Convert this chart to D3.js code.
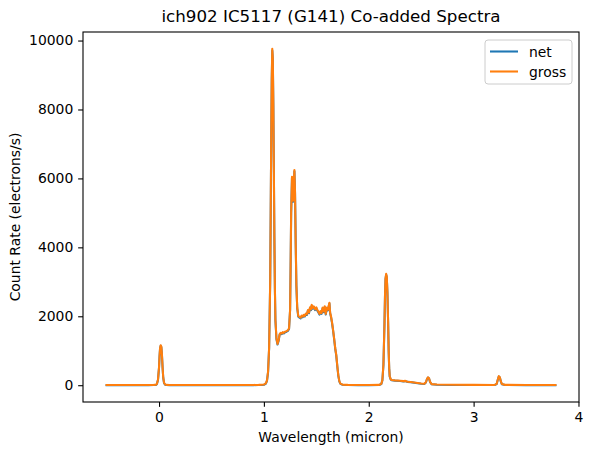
<!DOCTYPE html>
<html>
<head>
<meta charset="utf-8">
<script src="https://cdn.jsdelivr.net/npm/d3@7"></script>
<style>
  body { margin: 0; background: #fff; }
  text { font-family: "DejaVu Sans", sans-serif; }
</style>
</head>
<body>
<div id="chart"></div>
<script>
// Wavelength grid (micron)
const wavelength = [
  -0.51, -0.40, -0.30, -0.20, -0.10, -0.05, -0.03, -0.02, -0.01, 0.000,
  0.005, 0.010, 0.016, 0.022, 0.028, 0.034, 0.040, 0.048, 0.058, 0.070,
  0.100, 0.200, 0.300, 0.400, 0.500, 0.600, 0.700, 0.800, 0.900, 0.950,
  0.980, 1.000, 1.020, 1.030, 1.040, 1.050, 1.060, 1.065, 1.070, 1.075,
  1.080, 1.085, 1.090, 1.095, 1.100, 1.105, 1.110, 1.120, 1.130, 1.140,
  1.150, 1.160, 1.170, 1.180, 1.190, 1.200, 1.210, 1.220, 1.230, 1.240,
  1.250, 1.255, 1.260, 1.268, 1.274, 1.279, 1.285, 1.291, 1.297, 1.303,
  1.310, 1.318, 1.328, 1.340, 1.350, 1.360, 1.370, 1.380, 1.390, 1.400,
  1.410, 1.420, 1.430, 1.440, 1.450, 1.456, 1.465, 1.475, 1.488, 1.500,
  1.510, 1.520, 1.530, 1.540, 1.550, 1.560, 1.570, 1.580, 1.590, 1.600,
  1.610, 1.620, 1.625, 1.632, 1.640, 1.650, 1.660, 1.670, 1.680, 1.690,
  1.700, 1.710, 1.720, 1.730, 1.750, 1.800, 1.900, 2.000, 2.100, 2.120,
  2.130, 2.140, 2.150, 2.155, 2.160, 2.166, 2.172, 2.178, 2.185, 2.190,
  2.195, 2.200, 2.210, 2.220, 2.250, 2.300, 2.330, 2.350, 2.370, 2.400,
  2.450, 2.500, 2.530, 2.545, 2.555, 2.565, 2.575, 2.585, 2.600, 2.650,
  2.800, 3.000, 3.200, 3.220, 3.230, 3.240, 3.250, 3.260, 3.270, 3.300,
  3.500, 3.790
];

// Gross count rate (electrons/s)
const gross = [
  4, 5, 4, 6, 7, 9, 14, 40, 160, 520,
  850, 1080, 1160, 1120, 880, 520, 230, 70, 22, 10,
  7, 6, 5, 6, 5, 6, 5, 6, 8, 10,
  14, 20, 60, 150, 400, 1100, 3000, 5000, 7200, 8900,
  9760, 9500, 8200, 6300, 4300, 2800, 1900, 1350, 1200, 1300,
  1480, 1520, 1500, 1540, 1520, 1550, 1560, 1580, 1600, 1650,
  2200, 3500, 5000, 6050, 5800, 5350, 5900, 6240, 5600, 4200,
  2900, 2250, 2010, 1980, 1960, 2020, 1990, 2040, 2010, 2080,
  2060, 2180, 2110, 2260, 2200, 2330, 2240, 2290, 2200, 2260,
  2180, 2130, 2070, 2150, 2090, 2250, 2140, 2290, 2070, 2250,
  2190, 2330, 2390, 2100, 2000, 1820, 1600, 1350, 1080, 880,
  560, 280, 110, 45, 16, 9, 7, 7, 10, 40,
  150, 600, 1800, 2600, 3100, 3230, 3150, 2700, 1800, 1000,
  500, 260, 170, 150, 140, 130, 118, 125, 102, 95,
  72, 48, 40, 85, 180, 230, 200, 95, 32, 20,
  12, 9, 8, 40, 160, 262, 230, 110, 32, 10,
  6, 4
];

// Net count rate (background subtracted)
const net = [
  1, 2, 1, 2, 3, 4, 8, 33, 150, 505,
  832, 1062, 1142, 1102, 864, 506, 218, 61, 15, 5,
  3, 2, 1, 2, 1, 2, 1, 2, 3, 5,
  8, 13, 50, 135, 380, 1075, 2970, 4965, 7160, 8855,
  9712, 9455, 8160, 6265, 4270, 2775, 1878, 1330, 1182, 1283,
  1462, 1502, 1482, 1522, 1502, 1530, 1540, 1560, 1580, 1630,
  2178, 3475, 4972, 6018, 5770, 5322, 5870, 6205, 5570, 4175,
  2878, 2230, 1990, 1960, 1940, 2000, 1970, 2020, 1990, 2060,
  2040, 2160, 2090, 2240, 2180, 2310, 2220, 2270, 2180, 2240,
  2160, 2110, 2050, 2130, 2070, 2230, 2120, 2270, 2050, 2230,
  2170, 2310, 2368, 2080, 1982, 1802, 1584, 1335, 1066, 868,
  550, 272, 104, 40, 12, 5, 3, 3, 6, 34,
  140, 585, 1780, 2578, 3075, 3205, 3125, 2678, 1782, 985,
  488, 250, 162, 143, 133, 123, 112, 119, 96, 89,
  67, 43, 35, 79, 172, 222, 193, 89, 27, 15,
  8, 5, 4, 35, 152, 253, 222, 104, 27, 6,
  3, 1
];

const xTicks = [0, 1, 2, 3, 4];
const yTicks = [0, 2000, 4000, 6000, 8000, 10000];

const W = 592, H = 455;
const margin = { top: 32, right: 13, bottom: 53, left: 83 };
const width = W - margin.left - margin.right;
const height = H - margin.top - margin.bottom;

const svg = d3.select("#chart")
  .append("svg")
  .attr("width", W)
  .attr("height", H);

const g = svg.append("g")
  .attr("transform", `translate(${margin.left},${margin.top})`);

// matplotlib-style 5% auto margins
const xExt = d3.extent(wavelength);
const yExt = d3.extent(gross.concat(net));
const xPad = (xExt[1] - xExt[0]) * 0.05;
const yPad = (yExt[1] - yExt[0]) * 0.05;

const x = d3.scaleLinear()
  .domain([xExt[0] - xPad, xExt[1] + xPad])
  .range([0, width]);
const y = d3.scaleLinear()
  .domain([yExt[0] - yPad, yExt[1] + yPad])
  .range([height, 0]);

const tickLen = 4.86;
const fontPx = 13.9;

// Axes
const xAxis = g.append("g")
  .attr("transform", `translate(0,${height})`)
  .call(d3.axisBottom(x).tickValues(xTicks).tickFormat(d3.format("d"))
    .tickSize(tickLen).tickPadding(4.86).tickSizeOuter(0));
const yAxis = g.append("g")
  .call(d3.axisLeft(y).tickValues(yTicks).tickFormat(d3.format("d"))
    .tickSize(tickLen).tickPadding(4.86).tickSizeOuter(0));

[xAxis, yAxis].forEach((ax) => {
  ax.select(".domain").remove();
  ax.selectAll(".tick line").attr("stroke", "#000").attr("stroke-width", 1.1);
  ax.selectAll(".tick text")
    .attr("fill", "#000")
    .style("font-size", fontPx + "px")
    .style("font-family", "DejaVu Sans, sans-serif");
});

// Lines: net first, gross drawn on top
const pts = (vals) => wavelength.map((w, i) => [w, vals[i]]);
const line = d3.line().x((d) => x(d[0])).y((d) => y(d[1]));

g.append("path")
  .datum(pts(net))
  .attr("fill", "none")
  .attr("stroke", "#1f77b4")
  .attr("stroke-width", 2.08)
  .attr("stroke-linejoin", "round")
  .attr("d", line);

g.append("path")
  .datum(pts(gross))
  .attr("fill", "none")
  .attr("stroke", "#ff7f0e")
  .attr("stroke-width", 2.08)
  .attr("stroke-linejoin", "round")
  .attr("d", line);

// Frame
g.append("rect")
  .attr("width", width)
  .attr("height", height)
  .attr("fill", "none")
  .attr("stroke", "#000")
  .attr("stroke-width", 1.1);

// Title and axis labels
svg.append("text")
  .attr("x", margin.left + width / 2)
  .attr("y", 22)
  .attr("text-anchor", "middle")
  .style("font-size", "16.7px")
  .text("ich902 IC5117 (G141) Co-added Spectra");

svg.append("text")
  .attr("x", margin.left + width / 2)
  .attr("y", 442)
  .attr("text-anchor", "middle")
  .style("font-size", fontPx + "px")
  .text("Wavelength (micron)");

svg.append("text")
  .attr("transform", `translate(20,${margin.top + height / 2}) rotate(-90)`)
  .attr("text-anchor", "middle")
  .style("font-size", fontPx + "px")
  .text("Count Rate (electrons/s)");

// Legend
const series = [
  { name: "net", color: "#1f77b4" },
  { name: "gross", color: "#ff7f0e" }
];
const legend = svg.append("g")
  .attr("transform", `translate(${485},${40})`);
legend.append("rect")
  .attr("width", 87)
  .attr("height", 44)
  .attr("rx", 3)
  .attr("fill", "#fff")
  .attr("fill-opacity", 0.8)
  .attr("stroke", "#ccc")
  .attr("stroke-width", 1);
series.forEach((s, i) => {
  const yy = 11.5 + i * 20;
  legend.append("line")
    .attr("x1", 5).attr("x2", 33)
    .attr("y1", yy).attr("y2", yy)
    .attr("stroke", s.color)
    .attr("stroke-width", 2.08);
  legend.append("text")
    .attr("x", 44)
    .attr("y", yy + 5)
    .style("font-size", fontPx + "px")
    .text(s.name);
});
</script>
</body>
</html>
